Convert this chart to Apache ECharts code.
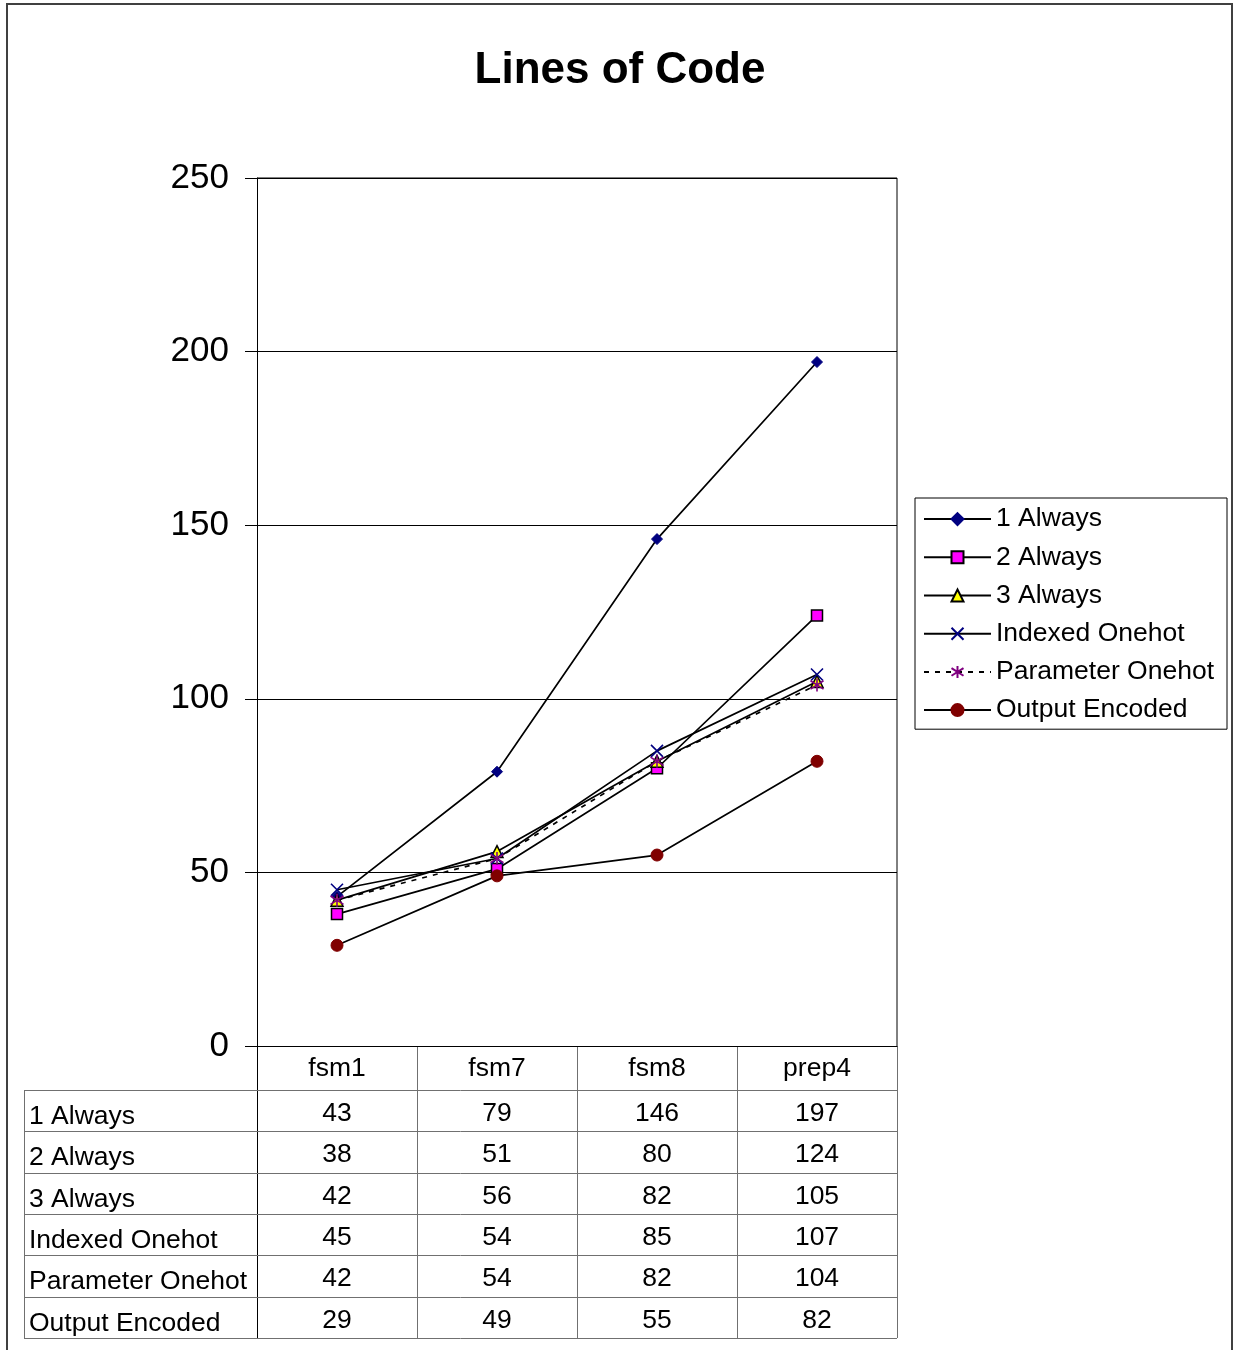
<!DOCTYPE html>
<html>
<head>
<meta charset="utf-8">
<script src="https://cdn.jsdelivr.net/npm/echarts@6/dist/echarts.min.js"></script>
<style>
html,body{margin:0;padding:0;background:#fff;}
#c{width:1233px;height:1350px;}
</style>
</head>
<body>
<div id="c"></div>
<script>
var categories = ['fsm1', 'fsm7', 'fsm8', 'prep4'];
var seriesNames = ['1 Always', '2 Always', '3 Always', 'Indexed Onehot', 'Parameter Onehot', 'Output Encoded'];
var always1 = [43, 79, 146, 197];
var always2 = [38, 51, 80, 124];
var always3 = [42, 56, 82, 105];
var indexedOnehot = [45, 54, 85, 107];
var parameterOnehot = [42, 54, 82, 104];
var outputEncoded = [29, 49, 55, 82];
var yTicks = [0, 50, 100, 150, 200, 250];

var allValues = [always1, always2, always3, indexedOnehot, parameterOnehot, outputEncoded];
var FONT = "'Liberation Sans', Arial, Helvetica, sans-serif";
var TXT = 26.5;

var GL = 257, GT = 178, GW = 640, GH = 868;

var chart = echarts.init(document.getElementById('c'), null, {renderer: 'canvas'});

var symbolDefs = [
  {symbol: 'diamond', size: 11, color: '#000080', border: '#000080', bw: 1},
  {symbol: 'rect', size: 11, color: '#FF00FF', border: '#000000', bw: 1.5},
  {symbol: 'triangle', size: 12, color: '#FFFF00', border: '#000000', bw: 1.5},
  {symbol: 'path://M0,0L10,10M10,0L0,10', size: 12, color: '#000080', border: '#000080', bw: 1.6},
  {symbol: 'path://M5,0L5,10M0.7,1.8L9.3,8.2M9.3,1.8L0.7,8.2', size: 13, color: '#800080', border: '#800080', bw: 1.6},
  {symbol: 'circle', size: 12, color: '#800000', border: '#800000', bw: 1}
];

var series = seriesNames.map(function (name, i) {
  var d = symbolDefs[i];
  return {
    name: name,
    type: 'line',
    data: allValues[i],
    symbol: d.symbol,
    symbolSize: d.size,
    showAllSymbol: true,
    animation: false,
    lineStyle: {color: '#000', width: 1.7, type: i === 4 ? [5, 6] : 'solid'},
    itemStyle: {color: d.color, borderColor: d.border, borderWidth: d.bw},
    emphasis: {disabled: true}
  };
});

var option = {
  backgroundColor: '#fff',
  animation: false,
  textStyle: {fontFamily: FONT},
  title: {
    text: 'Lines of Code',
    left: 615, textAlign: 'center',
    top: 44,
    textStyle: {fontFamily: FONT, fontSize: 44, fontWeight: 'bold', color: '#000'}
  },
  legend: {
    orient: 'vertical',
    left: 915, top: 498,
    padding: [7, 13, 5, 8],
    itemWidth: 67, itemHeight: 15, itemGap: 10,
    borderColor: '#000', borderWidth: 1,
    backgroundColor: '#fff',
    selectedMode: false,
    textStyle: {fontFamily: FONT, fontSize: TXT, color: '#000', lineHeight: 28.2},
    data: seriesNames
  },
  grid: {left: GL, top: GT, width: GW, height: GH, containLabel: false},
  xAxis: {
    type: 'category',
    data: categories,
    boundaryGap: true,
    axisLine: {show: true, lineStyle: {color: '#000', width: 1}},
    axisTick: {show: false},
    axisLabel: {fontFamily: FONT, fontSize: TXT, color: '#000', margin: 9, interval: 0}
  },
  yAxis: {
    type: 'value',
    min: 0, max: 250, interval: 50,
    axisLine: {show: true, lineStyle: {color: '#000', width: 1}},
    axisTick: {show: true, length: 12, lineStyle: {color: '#000'}},
    axisLabel: {fontFamily: FONT, fontSize: 35, color: '#000', margin: 28, padding: [4, 0, 0, 0],
      formatter: function (v) { return yTicks.indexOf(v) >= 0 ? String(v) : ''; }},
    splitLine: {show: true, lineStyle: {color: '#000', width: 1}}
  },
  series: series
};

chart.setOption(option);

// Build border + data table from the arrays, positioned via the axis scales
function buildGraphics() {
  var els = [];
  var colW = GW / categories.length;
  var plotLeft = chart.convertToPixel({xAxisIndex: 0}, categories[0]) - colW / 2;
  var yTop = chart.convertToPixel({yAxisIndex: 0}, 250);
  var yBot = chart.convertToPixel({yAxisIndex: 0}, 0);
  var plotRight = plotLeft + colW * categories.length;

  els.push({type: 'rect', shape: {x: 7, y: 4, width: 1225, height: 1360},
    style: {fill: null, stroke: '#404040', lineWidth: 2}, silent: true, z: 0});
  els.push({type: 'polyline', shape: {points: [[plotLeft, yTop], [plotRight, yTop], [plotRight, yBot]]},
    style: {stroke: '#000', lineWidth: 1, fill: null}, silent: true});

  var headerBottom = 1090;
  var rowH = (1338 - headerBottom) / seriesNames.length;
  var tableLeft = 24;
  var gray = '#707070';
  var tableBottom = headerBottom + rowH * seriesNames.length;

  for (var c = 0; c <= categories.length; c++) {
    var x = Math.round(plotLeft + colW * c) + 0.5;
    els.push({type: 'line', shape: {x1: x, y1: yBot, x2: x, y2: tableBottom},
      style: {stroke: c === 0 ? '#000' : gray, lineWidth: 1}, silent: true});
  }
  els.push({type: 'line', shape: {x1: tableLeft + 0.5, y1: headerBottom, x2: tableLeft + 0.5, y2: tableBottom},
    style: {stroke: gray, lineWidth: 1}, silent: true});
  for (var r = 0; r <= seriesNames.length; r++) {
    var y = Math.round(headerBottom + rowH * r) + 0.5;
    els.push({type: 'line', shape: {x1: tableLeft, y1: y, x2: plotRight, y2: y},
      style: {stroke: gray, lineWidth: 1}, silent: true});
  }
  for (var s = 0; s < seriesNames.length; s++) {
    var yc = headerBottom + rowH * s + rowH / 2;
    els.push({type: 'text', x: 29, y: yc + 6,
      style: {text: seriesNames[s], font: TXT + 'px ' + FONT, fill: '#000', textAlign: 'left', textVerticalAlign: 'middle'},
      silent: true});
    for (var k = 0; k < categories.length; k++) {
      var cx = chart.convertToPixel({xAxisIndex: 0}, categories[k]);
      els.push({type: 'text', x: cx, y: yc + 3,
        style: {text: String(allValues[s][k]), font: TXT + 'px ' + FONT, fill: '#000', textAlign: 'center', textVerticalAlign: 'middle'},
        silent: true});
    }
  }
  chart.setOption({graphic: {elements: els}});
}
buildGraphics();
</script>
</body>
</html>
